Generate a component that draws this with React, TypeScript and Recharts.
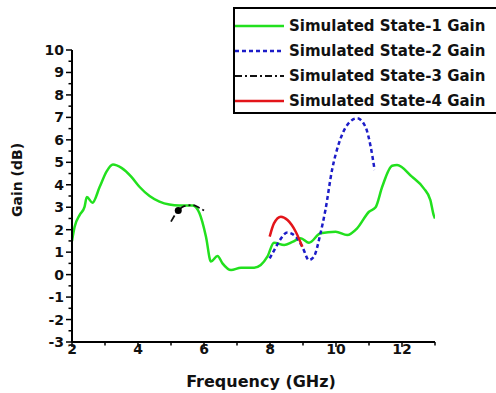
import React from "react";
import { LineChart, Line, XAxis, YAxis, Legend } from "recharts";

// State-1 (green)
const s1Freq = [2.0, 2.08, 2.23, 2.38, 2.45, 2.62, 2.84, 3.05, 3.24, 3.5, 3.8, 4.05, 4.35, 4.65, 4.95, 5.25, 5.66, 5.86, 6.06, 6.21, 6.41, 6.56, 6.82, 7.12, 7.52, 7.72, 7.92, 8.12, 8.43, 8.68, 8.93, 9.18, 9.53, 9.99, 10.34, 10.64, 11.0, 11.2, 11.4, 11.7, 11.85, 12.3, 12.66, 12.86, 12.96, 13.0];
const s1Gain = [1.5, 2.13, 2.65, 3.02, 3.45, 3.2, 3.91, 4.6, 4.9, 4.75, 4.35, 3.9, 3.5, 3.25, 3.12, 3.08, 3.08, 2.74, 1.69, 0.58, 0.83, 0.5, 0.2, 0.31, 0.31, 0.43, 0.8, 1.42, 1.32, 1.46, 1.62, 1.42, 1.84, 1.91, 1.76, 2.06, 2.8, 3.0, 3.91, 4.85, 4.88, 4.36, 3.84, 3.32, 2.65, 2.5];

// State-2 (blue dashed)
const s2Freq = [7.99, 8.15, 8.27, 8.53, 8.78, 8.98, 9.18, 9.33, 9.53, 9.68, 9.88, 10.09, 10.34, 10.64, 10.89, 11.05, 11.17];
const s2Gain = [0.72, 1.15, 1.47, 1.87, 1.69, 1.24, 0.65, 0.8, 1.84, 2.88, 4.66, 5.85, 6.66, 6.96, 6.59, 5.7, 4.66];

// State-3 (black dash-dot)
const s3Freq = [5.0, 5.22, 5.4, 5.66, 5.85, 6.06];
const s3Gain = [2.36, 2.85, 3.05, 3.1, 2.98, 2.8];
const s3MarkerIndex = 1;

// State-4 (red)
const s4Freq = [7.99, 8.12, 8.33, 8.53, 8.78, 8.98];
const s4Gain = [1.69, 2.28, 2.58, 2.43, 1.91, 1.24];

const seriesNames = [
  "Simulated State-1 Gain",
  "Simulated State-2 Gain",
  "Simulated State-3 Gain",
  "Simulated State-4 Gain",
];

const xTicks = [2, 3, 4, 5, 6, 7, 8, 9, 10, 11, 12, 13];
const xLabelTicks = [2, 4, 6, 8, 10, 12];
const yTicks = [-3, -2.5, -2, -1.5, -1, -0.5, 0, 0.5, 1, 1.5, 2, 2.5, 3, 3.5, 4, 4.5, 5, 5.5, 6, 6.5, 7, 7.5, 8, 8.5, 9, 9.5, 10];

const toData = (xs: number[], ys: number[]) => xs.map((f, i) => ({ f, g: ys[i] }));
const d1 = toData(s1Freq, s1Gain);
const d2 = toData(s2Freq, s2Gain);
const d3 = toData(s3Freq, s3Gain);
const d4 = toData(s4Freq, s4Gain);

const FONT = "'DejaVu Sans', sans-serif";

const styles = [
  { color: "#22e01e", dash: undefined as string | undefined, width: 2.5 },
  { color: "#1c1cc8", dash: "4 3", width: 2.5 },
  { color: "#111111", dash: "7 3 2 3", width: 1.8 },
  { color: "#e3151a", dash: undefined as string | undefined, width: 2.5 },
];

const YTick = (props: any) => {
  const { x, y, payload } = props;
  const v = payload.value;
  const major = Number.isInteger(v);
  return (
    <g>
      <line x1={x - (major ? 6 : 3.5)} x2={x} y1={y} y2={y} stroke="#000" strokeWidth={1.5} />
      {major && (
        <text x={x - 8} y={y + 5} textAnchor="end" fontFamily={FONT} fontWeight="bold" fontSize={14} fill="#111">
          {v}
        </text>
      )}
    </g>
  );
};

const XTick = (props: any) => {
  const { x, y, payload } = props;
  const v = payload.value;
  const major = xLabelTicks.includes(v);
  return (
    <g>
      <line x1={x} x2={x} y1={y} y2={y + (major ? 5 : 3.5)} stroke="#000" strokeWidth={1.5} />
      {major && (
        <text x={x} y={y + 12} textAnchor="middle" fontFamily={FONT} fontWeight="bold" fontSize={14} fill="#111">
          {v}
        </text>
      )}
    </g>
  );
};

const LegendBox = () => (
  <div
    style={{
      boxSizing: "border-box",
      width: 266,
      height: 107,
      border: "2px solid #000",
      background: "#fff",
      paddingTop: 4,
    }}
  >
    {seriesNames.map((n, i) => (
      <div key={n} style={{ display: "flex", alignItems: "center", height: 25 }}>
        <svg width={50} height={10} style={{ display: "block" }}>
          <line x1={0} x2={49} y1={5} y2={5} stroke={styles[i].color} strokeWidth={styles[i].width} strokeDasharray={styles[i].dash} />
        </svg>
        <span style={{ marginLeft: 4, fontFamily: FONT, fontWeight: "bold", fontSize: 15, color: "#111", whiteSpace: "nowrap" }}>{n}</span>
      </div>
    ))}
  </div>
);

const Marker = (props: any) => {
  const { cx, cy, index } = props;
  if (index !== s3MarkerIndex) return <g key={index} />;
  return <circle key={index} cx={cx} cy={cy} r={3.5} fill="#000" />;
};

export default function App() {
  return (
    <div style={{ position: "absolute", left: 0, top: 0, width: 496, height: 393, background: "#fff" }}>
      <LineChart width={496} height={393} margin={{ top: 50, right: 61, bottom: 0, left: 0 }}>
        <XAxis
          dataKey="f"
          type="number"
          domain={[2, 13]}
          ticks={xTicks}
          allowDataOverflow
          interval={0}
          height={51}
          tickSize={0}
          tickMargin={0}
          tickLine={false}
          axisLine={{ stroke: "#000", strokeWidth: 2 }}
          tick={<XTick />}
          label={{
            content: () => (
              <text x={261} y={387} textAnchor="middle" fontFamily={FONT} fontWeight="bold" fontSize={16} fill="#111">
                Frequency (GHz)
              </text>
            ),
          }}
        />
        <XAxis xAxisId="top" orientation="top" type="number" domain={[2, 13]} height={0} tick={false} tickLine={false} axisLine={{ stroke: "#000", strokeWidth: 2 }} />
        <YAxis
          type="number"
          domain={[-3, 10]}
          ticks={yTicks}
          allowDataOverflow
          interval={0}
          width={72}
          tickSize={0}
          tickMargin={0}
          tickLine={false}
          axisLine={{ stroke: "#000", strokeWidth: 2 }}
          tick={<YTick />}
          label={{
            content: () => (
              <text x={22} y={180} transform="rotate(-90 22 180)" textAnchor="middle" fontFamily={FONT} fontWeight="bold" fontSize={14} fill="#111">
                Gain (dB)
              </text>
            ),
          }}
        />
        <YAxis yAxisId="right" orientation="right" type="number" domain={[-3, 10]} width={0} tick={false} tickLine={false} axisLine={{ stroke: "#000", strokeWidth: 2 }} />
        <Line data={d1} dataKey="g" name={seriesNames[0]} type="monotone" stroke={styles[0].color} strokeWidth={styles[0].width} dot={false} isAnimationActive={false} />
        <Line data={d2} dataKey="g" name={seriesNames[1]} type="monotone" stroke={styles[1].color} strokeWidth={styles[1].width} strokeDasharray={styles[1].dash} dot={false} isAnimationActive={false} />
        <Line data={d3} dataKey="g" name={seriesNames[2]} type="monotone" stroke={styles[2].color} strokeWidth={styles[2].width} strokeDasharray={styles[2].dash} dot={<Marker />} isAnimationActive={false} />
        <Line data={d4} dataKey="g" name={seriesNames[3]} type="monotone" stroke={styles[3].color} strokeWidth={styles[3].width} dot={false} isAnimationActive={false} />
        <Legend
          layout="horizontal"
          verticalAlign="middle"
          align="center"
          content={<LegendBox />}
          wrapperStyle={{ position: "absolute", left: 233, top: 7, width: 266, height: 107, margin: 0 }}
        />
      </LineChart>
    </div>
  );
}
